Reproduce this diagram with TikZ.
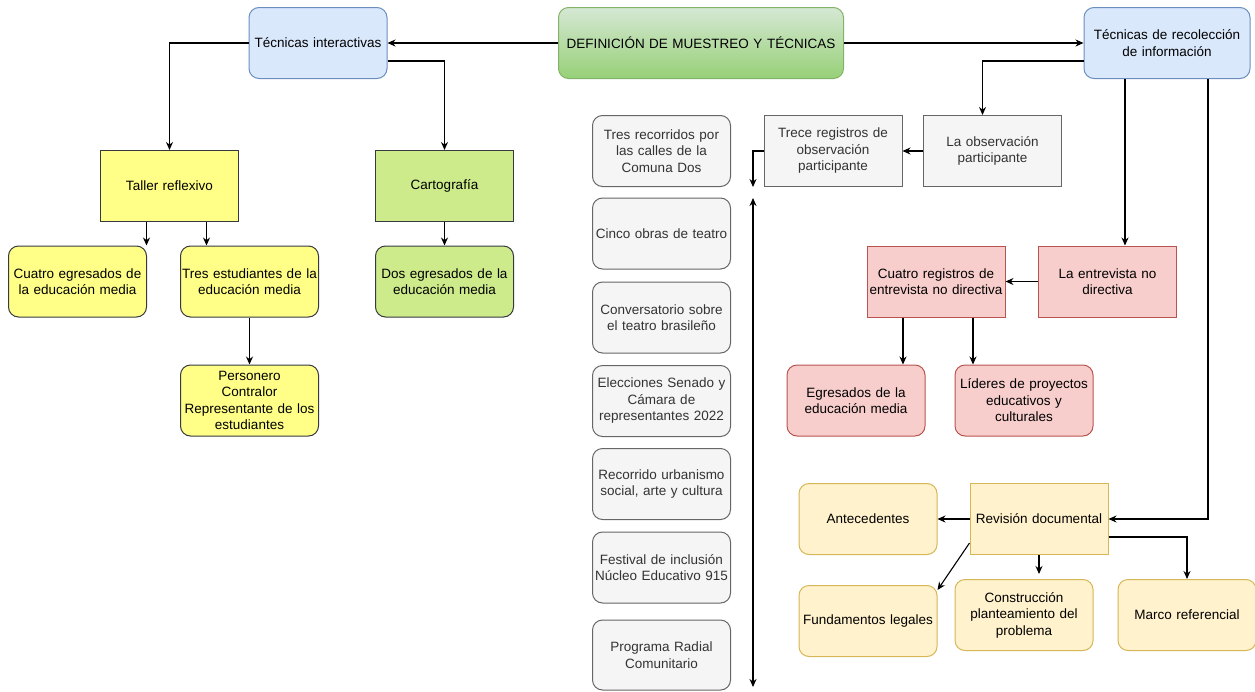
\documentclass[tikz,border=0pt]{standalone}
\usepackage{fontspec}
\setmainfont{Liberation Sans}
\usetikzlibrary{arrows.meta}
\definecolor{bluefill}{HTML}{DAE8FC}
\definecolor{bluedraw}{HTML}{6C8EBF}
\definecolor{greentop}{HTML}{D5E8D4}
\definecolor{greenbot}{HTML}{97D077}
\definecolor{greendraw}{HTML}{82B366}
\definecolor{yellowfill}{HTML}{FFFF88}
\definecolor{limefill}{HTML}{CDEB8B}
\definecolor{darkdraw}{HTML}{36393D}
\definecolor{grayfill}{HTML}{F5F5F5}
\definecolor{graydraw}{HTML}{666666}
\definecolor{graytext}{HTML}{333333}
\definecolor{pinkfill}{HTML}{F8CECC}
\definecolor{pinkdraw}{HTML}{B85450}
\definecolor{tanfill}{HTML}{FFF2CC}
\definecolor{tandraw}{HTML}{D6B656}

\begin{document}
\begin{tikzpicture}[x=1pt,y=-1pt]
\tikzset{box/.style = {draw, line width=1pt, inner sep=1pt, text width=136pt, minimum height=71pt, align=center, font=\fontsize{13.5}{16.5}\selectfont}}
\tikzset{rbox/.style = {box, rounded corners=10pt}}
\tikzset{bluebox/.style = {rbox, fill=bluefill, draw=bluedraw}}
\tikzset{mainbox/.style = {rbox, top color=greentop, bottom color=greenbot, draw=greendraw}}
\tikzset{yellowbox/.style = {fill=yellowfill, draw=darkdraw}}
\tikzset{limebox/.style = {fill=limefill, draw=darkdraw}}
\tikzset{graybox/.style = {fill=grayfill, draw=graydraw, text=graytext}}
\tikzset{pinkbox/.style = {fill=pinkfill, draw=pinkdraw}}
\tikzset{tanbox/.style = {fill=tanfill, draw=tandraw}}
\tikzset{edge/.style = {-{Stealth[length=8pt,width=7pt]}, line width=1.1pt}}
\useasboundingbox (0,0) rectangle (1255,691);

\node[mainbox, text width=283pt] (def) at (701,43) {DEFINICIÓN DE MUESTREO Y TÉCNICAS};
\node[bluebox] (inter) at (318,43) {Técnicas interactivas};
\node[bluebox, text width=164pt] (recol) at (1167,43) {Técnicas de recolección\\de información};

\node[box, yellowbox] (taller) at (169.5,186) {Taller reflexivo};
\node[box, limebox] (carto) at (444.5,186) {Cartografía};
\node[rbox, yellowbox] (cuatroeg) at (77.5,281.5) {Cuatro egresados de\\la educación media};
\node[rbox, yellowbox] (tresest) at (249.5,281.5) {Tres estudiantes de la\\educación media};
\node[rbox, limebox] (dosegr) at (444.5,281.5) {Dos egresados de la\\educación media};
\node[rbox, yellowbox] (personero) at (249.5,400.5) {Personero\\Contralor\\Representante de los\\estudiantes};

\node[rbox, graybox] (g1) at (661.5,151) {Tres recorridos por\\las calles de la\\Comuna Dos};
\node[rbox, graybox] (g2) at (661.5,233.5) {Cinco obras de teatro};
\node[rbox, graybox] (g3) at (661.5,317.5) {Conversatorio sobre\\el teatro brasileño};
\node[rbox, graybox] (g4) at (661.5,401) {Elecciones Senado y\\Cámara de\\representantes 2022};
\node[rbox, graybox] (g5) at (661.5,484) {Recorrido urbanismo\\social, arte y cultura};
\node[rbox, graybox] (g6) at (661.5,567.5) {Festival de inclusión\\Núcleo Educativo 915};
\node[rbox, graybox, minimum height=70pt] (g7) at (661.5,655) {Programa Radial\\Comunitario};

\node[box, graybox] (trece) at (833,151) {Trece registros de\\observación\\participante};
\node[box, graybox] (obs) at (992.5,151) {La observación\\participante};

\node[box, pinkbox] (entrev) at (1107.5,281.5) {La entrevista no\\directiva};
\node[box, pinkbox] (cuatroreg) at (936,281.5) {Cuatro registros de\\entrevista no directiva};
\node[rbox, pinkbox] (egres) at (856,400.5) {Egresados de la\\educación media};
\node[rbox, pinkbox] (lideres) at (1024,400.5) {Líderes de proyectos\\educativos y\\culturales};

\node[box, tanbox] (revision) at (1039,519) {Revisión documental};
\node[rbox, tanbox] (antec) at (868,519) {Antecedentes};
\node[rbox, tanbox] (fund) at (868,621) {Fundamentos legales};
\node[rbox, tanbox] (constr) at (1024,615) {Construcción\\planteamiento del\\problema};
\node[rbox, tanbox] (marco) at (1187,615) {Marco referencial};

\coordinate (c1) at (753,187);
\coordinate (c2) at (753,198);
\coordinate (c3) at (753,687);

\draw[edge] (def) to (inter);
\draw[edge] (def) to (recol);
\draw[edge] (inter.west) -| (taller.north);
\draw[edge] ([yshift=-18pt]inter.east) -| (carto.north);
\draw[edge] ([xshift=-23pt]taller.south) to ([xshift=-23pt]taller.south |- cuatroeg.north);
\draw[edge] ([xshift=37pt]taller.south) to ([xshift=37pt]taller.south |- tresest.north);
\draw[edge] (carto) to (dosegr);
\draw[edge] (tresest) to (personero);

\draw[edge] ([yshift=-18pt]recol.west) -| ([xshift=-10pt]obs.north);
\draw[edge] (obs) to (trece);
\draw[edge] (trece.west) -| (c1);
\draw[edge, {Stealth[length=8pt,width=7pt]}-{Stealth[length=8pt,width=7pt]}] (c2) to (c3);

\draw[edge] ([xshift=-42pt]recol.south) to ([xshift=-42pt]recol.south |- entrev.north);
\draw[edge] (entrev) to (cuatroreg);
\draw[edge] ([xshift=-33pt]cuatroreg.south) to ([xshift=-33pt]cuatroreg.south |- egres.north);
\draw[edge] ([xshift=37pt]cuatroreg.south) to ([xshift=37pt]cuatroreg.south |- lideres.north);

\draw[edge] ([xshift=41pt]recol.south) |- (revision.east);
\draw[edge] (revision) to (antec);
\draw[edge] ([yshift=-24pt]revision.west) to ([yshift=-5pt]fund.north east);
\draw[edge, shorten >=5pt] (revision.south) to (revision.south |- constr.north);
\draw[edge] ([yshift=-18pt]revision.east) -| (marco.north);
\end{tikzpicture}
\end{document}
